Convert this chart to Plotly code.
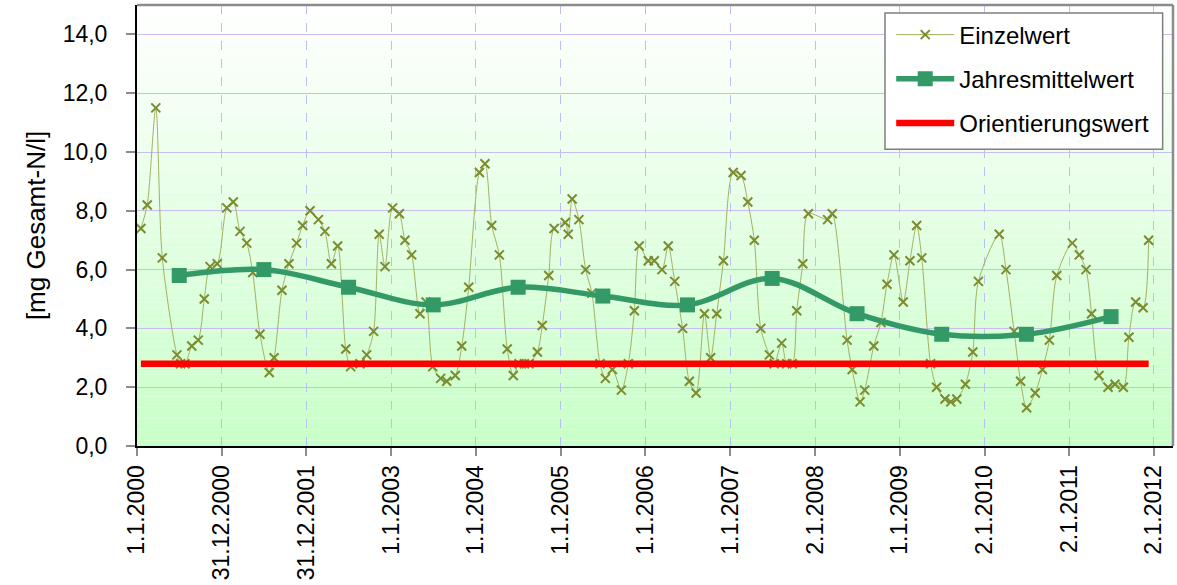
import plotly.graph_objects as go

# ---- data ----
sample_dates = [
    "2000-01-18", "2000-02-14", "2000-03-22", "2000-04-19", "2000-06-21", "2000-07-07", "2000-07-26",
    "2000-08-24", "2000-09-21", "2000-10-17", "2000-11-11", "2000-12-12",
    "2001-01-22", "2001-02-19", "2001-03-20", "2001-04-18", "2001-05-14", "2001-06-14", "2001-07-24",
    "2001-08-14", "2001-09-17", "2001-10-17", "2001-11-19", "2001-12-15",
    "2002-01-16", "2002-02-21", "2002-03-21", "2002-04-18", "2002-05-15", "2002-06-19", "2002-07-10",
    "2002-08-19", "2002-09-17", "2002-10-17", "2002-11-10", "2002-12-05",
    "2003-01-07", "2003-02-05", "2003-03-01", "2003-03-30", "2003-05-05", "2003-05-31", "2003-06-29",
    "2003-08-02", "2003-08-28", "2003-10-04", "2003-11-01", "2003-12-01",
    "2004-01-16", "2004-02-09", "2004-03-09", "2004-04-11", "2004-05-15", "2004-06-10", "2004-07-05",
    "2004-07-28", "2004-08-17", "2004-09-22", "2004-10-13", "2004-11-10", "2004-12-03",
    "2005-01-20", "2005-02-02", "2005-02-19", "2005-03-20", "2005-04-18", "2005-05-15", "2005-06-19",
    "2005-07-12", "2005-08-11", "2005-09-19", "2005-10-19", "2005-11-14", "2005-12-05",
    "2006-01-13", "2006-02-08", "2006-03-13", "2006-04-09", "2006-05-07", "2006-06-10", "2006-07-09",
    "2006-08-07", "2006-09-12", "2006-10-09", "2006-11-04", "2006-12-03",
    "2007-01-14", "2007-02-17", "2007-03-18", "2007-04-15", "2007-05-13", "2007-06-19", "2007-07-10",
    "2007-08-11", "2007-09-02", "2007-09-26", "2007-10-15", "2007-11-10", "2007-12-04",
    "2008-02-25", "2008-03-16", "2008-05-19", "2008-06-10", "2008-07-14", "2008-08-03", "2008-09-11",
    "2008-10-12", "2008-11-07", "2008-12-07",
    "2009-01-16", "2009-02-14", "2009-03-15", "2009-04-06", "2009-05-14", "2009-06-09", "2009-07-15",
    "2009-08-09", "2009-09-04", "2009-10-11", "2009-11-12", "2009-12-06",
    "2010-03-06", "2010-04-04", "2010-05-09", "2010-06-06", "2010-07-02", "2010-08-08", "2010-09-08",
    "2010-10-08", "2010-11-09",
    "2011-01-15", "2011-02-14", "2011-03-15", "2011-04-08", "2011-05-10", "2011-06-18", "2011-07-18",
    "2011-08-23", "2011-09-16", "2011-10-15", "2011-11-16", "2011-12-10",
]
einzelwert = [
    7.4, 8.2, 11.5, 6.4, 3.1, 2.8, 2.8, 3.4, 3.6, 5.0, 6.1, 6.2,
    8.1, 8.3, 7.3, 6.9, 5.9, 3.8, 2.5, 3.0, 5.3, 6.2, 6.9, 7.5,
    8.0, 7.7, 7.3, 6.2, 6.8, 3.3, 2.7, 2.8, 3.1, 3.9, 7.2, 6.1,
    8.1, 7.9, 7.0, 6.5, 4.5, 4.9, 2.7, 2.3, 2.2, 2.4, 3.4, 5.4,
    9.3, 9.6, 7.5, 6.5, 3.3, 2.4, 2.8, 2.8, 2.8, 3.2, 4.1, 5.8, 7.4,
    7.6, 7.2, 8.4, 7.7, 6.0, 5.2, 2.8, 2.3, 2.6, 1.9, 2.8, 4.6, 6.8,
    6.3, 6.3, 6.0, 6.8, 5.6, 4.0, 2.2, 1.8, 4.5, 3.0, 4.5, 6.3,
    9.3, 9.2, 8.3, 7.0, 4.0, 3.1, 2.8, 3.5, 2.8, 2.8, 4.6, 6.2, 7.9,
    7.7, 7.9, 3.6, 2.6, 1.5, 1.9, 3.4, 4.2, 5.5, 6.5,
    4.9, 6.3, 7.5, 6.4, 2.8, 2.0, 1.6, 1.5, 1.6, 2.1, 3.2, 5.6,
    7.2, 6.0, 3.9, 2.2, 1.3, 1.8, 2.6, 3.6, 5.8,
    6.9, 6.5, 6.0, 4.5, 2.4, 2.0, 2.1, 2.0, 3.7, 4.9, 4.7, 7.0,
]

mean_dates = ["2000-07-01", "2001-07-01", "2002-07-01", "2003-07-01", "2004-07-01", "2005-07-01",
              "2006-07-01", "2007-07-01", "2008-07-01", "2009-07-01", "2010-07-01", "2011-07-01"]
jahresmittelwert = [5.8, 6.0, 5.4, 4.8, 5.4, 5.1, 4.8, 5.7, 4.5, 3.8, 3.8, 4.4]

orient_dates = [sample_dates[0], sample_dates[-1]]
orientierungswert = [2.8, 2.8]

tick_dates = ["2000-01-01", "2000-12-31", "2001-12-31", "2003-01-01", "2004-01-01", "2005-01-01",
              "2006-01-01", "2007-01-01", "2008-01-02", "2009-01-01", "2010-01-02", "2011-01-02",
              "2012-01-02"]
tick_labels = ["1.1.2000", "31.12.2000", "31.12.2001", "1.1.2003", "1.1.2004", "1.1.2005",
               "1.1.2006", "1.1.2007", "2.1.2008", "1.1.2009", "2.1.2010", "2.1.2011", "2.1.2012"]

FONT = "Liberation Sans, Arial, sans-serif"

fig = go.Figure()

fig.add_trace(go.Scatter(
    x=sample_dates, y=einzelwert, name="Einzelwert", mode="lines+markers",
    line=dict(color="#a3b063", width=1, shape="spline", smoothing=0.8),
    marker=dict(symbol="x-thin", size=9, color="#7b8c2e", line=dict(width=2, color="#7b8c2e")),
    legendgroup="a",
))
fig.add_trace(go.Scatter(
    x=mean_dates, y=jahresmittelwert, name="Jahresmittelwert", mode="lines+markers",
    line=dict(color="#339966", width=5.5, shape="spline", smoothing=1.0),
    marker=dict(symbol="square", size=15, color="#339966"),
    legendgroup="b",
))
fig.add_trace(go.Scatter(
    x=orient_dates, y=orientierungswert, name="Orientierungswert", mode="lines",
    line=dict(color="#ff0000", width=6.5),
    legendgroup="c",
))

# vertical gradient background (white -> light green)
shapes = []
n = 80
top = (255, 255, 255)
bot = (200, 255, 200)
for i in range(n):
    t = (i + 0.5) / n  # 0 at bottom
    c = tuple(round(bot[k] + (top[k] - bot[k]) * t) for k in range(3))
    shapes.append(dict(type="rect", xref="paper", yref="paper", x0=0, x1=1,
                       y0=i / n, y1=(i + 1) / n, fillcolor="rgb(%d,%d,%d)" % c,
                       line=dict(width=0), layer="below"))
# plot-area frame (gray top/right)
shapes.append(dict(type="line", xref="paper", yref="paper", x0=0, x1=1, y0=1, y1=1,
                   line=dict(color="#8c8c8c", width=2.5), layer="above"))
shapes.append(dict(type="line", xref="paper", yref="paper", x0=1, x1=1, y0=0, y1=1,
                   line=dict(color="#8c8c8c", width=2.5), layer="above"))
# legend box
shapes.append(dict(type="rect", xref="paper", yref="paper", x0=0.722, x1=0.990, y0=0.673, y1=0.982,
                   fillcolor="white", line=dict(color="#7f7f7f", width=1.5), layer="above"))

fig.update_layout(
    width=1177, height=585,
    margin=dict(l=137, r=4, t=5, b=139),
    paper_bgcolor="white", plot_bgcolor="white",
    separators=",.",
    font=dict(family=FONT, size=23, color="black"),
    shapes=shapes,
    showlegend=True,
    legend=dict(
        x=0.728, y=0.983, xanchor="left", yanchor="top",
        bgcolor="rgba(0,0,0,0)", borderwidth=0,
        font=dict(family=FONT, size=24, color="black"),
        itemwidth=58, tracegroupgap=10,
    ),
)

fig.update_xaxes(
    type="date", range=["2000-01-01", "2012-03-24"], automargin=False,
    tickmode="array", tickvals=tick_dates, ticktext=tick_labels, tickangle=-90,
    tickfont=dict(family=FONT, size=23),
    ticks="outside", ticklen=8, tickcolor="#8c8c8c", tickwidth=1.5,
    showgrid=True, gridcolor="#b8c0f5", griddash="dash", gridwidth=1,
    showline=True, linecolor="black", linewidth=2,
    zeroline=False,
)
fig.update_yaxes(
    range=[0, 15], tickmode="linear", tick0=0, dtick=2, tickformat=".1f", automargin=False,
    tickfont=dict(family=FONT, size=23), ticklabelstandoff=14,
    ticks="outside", ticklen=9, tickcolor="#8c8c8c", tickwidth=1.5,
    showgrid=True, gridcolor="#c9bdf2", gridwidth=1.2,
    showline=True, linecolor="black", linewidth=2,
    zeroline=False,
    title=dict(text="[mg Gesamt-N/l]", font=dict(family=FONT, size=26), standoff=10),
)

fig.write_html("out.html", config={"displayModeBar": False},
               post_script="document.body.style.margin='0';document.body.style.overflow='hidden';")
